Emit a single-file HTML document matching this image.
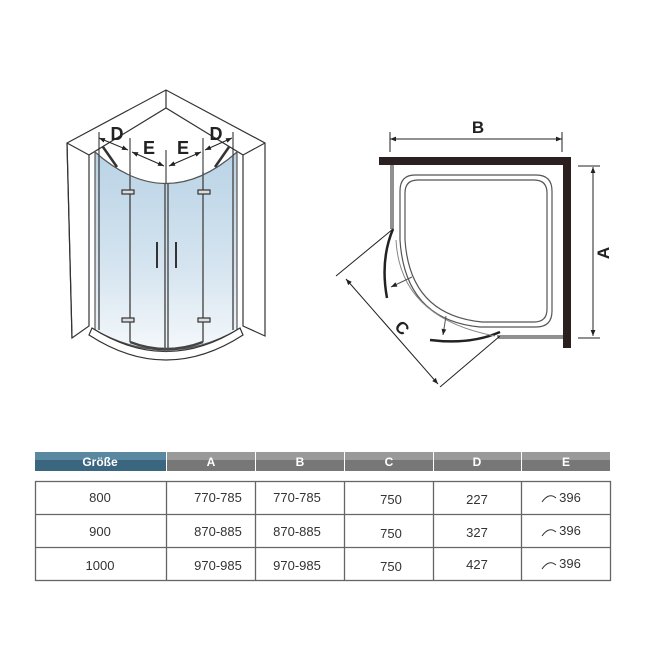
<!DOCTYPE html>
<html><head><meta charset="utf-8"><style>
body{margin:0;background:#fff;width:650px;height:650px;overflow:hidden;font-family:"Liberation Sans",sans-serif}
svg{position:absolute;left:0;top:0}
</style></head><body>
<svg width="650" height="650" viewBox="0 0 650 650">
<defs>
<linearGradient id="g" x1="0" y1="0" x2="0" y2="1">
<stop offset="0" stop-color="#b9d3e6"/><stop offset="0.6" stop-color="#d6e5f0"/><stop offset="1" stop-color="#f4f8fb"/></linearGradient>
<marker id="ar" viewBox="0 0 10 10" refX="10" refY="5" markerWidth="8" markerHeight="6" orient="auto-start-reverse"><path d="M0,1 L10,5 L0,9z" fill="#222"/></marker>
</defs>
<g stroke="#333" stroke-width="1.2" fill="none">
<path d="M67,143 L166,90 L265,143 L265,336 L243,326 L243,155 L166,108 L89,155 L89,326 L72,338 Z" fill="#fff"/>
<path d="M67,143 L89,155 M265,143 L243,155 M166,90 L166,108"/>
<path d="M67,143 L72,338"/>
<path d="M95,152 Q166,215 237,152 L237,330 Q166,370 95,330 Z" fill="url(#g)" stroke="#555"/>
<path d="M92,328 Q166,375 240,328 L243,335 Q166,385 89,335 Z" fill="#fff"/>
<path d="M130,342 Q166,356 203,342" stroke="#444" stroke-width="2.5"/>
<g stroke="#555" stroke-width="1.5">
<line x1="99" y1="155" x2="99" y2="330"/><line x1="130" y1="172" x2="130" y2="342"/>
<line x1="165" y1="183" x2="165" y2="352"/><line x1="168" y1="183" x2="168" y2="352"/>
<line x1="203" y1="172" x2="203" y2="342"/><line x1="233" y1="155" x2="233" y2="330"/>
</g>
<g stroke="#333" stroke-width="2"><line x1="157" y1="242" x2="157" y2="268"/><line x1="176" y1="242" x2="176" y2="268"/></g>
<g fill="#ddd"><rect x="122" y="190" width="12" height="4"/><rect x="198" y="190" width="12" height="4"/><rect x="122" y="318" width="12" height="4"/><rect x="198" y="318" width="12" height="4"/></g>
<path d="M103,147 L117,167 M229,147 L215,167" stroke-width="2.5"/>
<g stroke="#222" stroke-width="1"><line x1="99" y1="138" x2="128" y2="150" marker-start="url(#ar)" marker-end="url(#ar)"/>
<line x1="132" y1="152" x2="164" y2="166" marker-start="url(#ar)" marker-end="url(#ar)"/>
<line x1="169" y1="166" x2="201" y2="152" marker-start="url(#ar)" marker-end="url(#ar)"/>
<line x1="205" y1="150" x2="232" y2="138" marker-start="url(#ar)" marker-end="url(#ar)"/>
<line x1="99" y1="132" x2="99" y2="155"/><line x1="130" y1="138" x2="130" y2="172"/><line x1="203" y1="138" x2="203" y2="172"/><line x1="233" y1="132" x2="233" y2="155"/><line x1="166" y1="150" x2="166" y2="183"/></g>
</g>
<g font-size="18" font-weight="bold" fill="#222" text-anchor="middle"><text x="117" y="140">D</text><text x="149" y="154">E</text><text x="183" y="154">E</text><text x="216" y="140">D</text></g>

<g stroke="#222" fill="none">
<rect x="379" y="157" width="192" height="8" fill="#2a2020" stroke="none"/>
<rect x="563" y="157" width="8" height="191" fill="#2a2020" stroke="none"/>
<path d="M391,165 L391,229 M393,165 L393,229" stroke-width="1"/>
<path d="M497,336 L563,336 M497,338 L563,338" stroke-width="1"/>
<path d="M415,175 L536,175 Q552,175 552,191 L552,311 Q552,327 536,327 L480,327 Q405,320 400,240 L400,191 Q400,175 415,175 Z" stroke="#555" stroke-width="1.2"/>
<path d="M418,180 L534,180 Q547,180 547,193 L547,309 Q547,322 534,322 L482,322 Q410,315 405,240 L405,193 Q405,180 418,180 Z" stroke="#555" stroke-width="1.2"/>
<path d="M393,229 Q380,260 387,298" stroke-width="2.5"/>
<path d="M430,340 Q470,345 500,332" stroke-width="2.5"/>
<path d="M396,240 Q400,318 495,336" stroke="#888" stroke-width="1"/>
<line x1="412" y1="277" x2="391" y2="287" stroke="#555" marker-end="url(#ar)"/>
<line x1="446" y1="316" x2="443" y2="335" stroke="#555" marker-end="url(#ar)"/>
<line x1="390" y1="139" x2="562" y2="139" marker-start="url(#ar)" marker-end="url(#ar)" stroke-width="1"/>
<line x1="390" y1="132" x2="390" y2="152" stroke-width="1"/><line x1="562" y1="132" x2="562" y2="152" stroke-width="1"/>
<line x1="593" y1="167" x2="593" y2="336" marker-start="url(#ar)" marker-end="url(#ar)" stroke-width="1"/>
<line x1="578" y1="166" x2="600" y2="166" stroke-width="1"/><line x1="578" y1="338" x2="600" y2="338" stroke-width="1"/>
<line x1="346" y1="279" x2="438" y2="384" marker-start="url(#ar)" marker-end="url(#ar)" stroke-width="1"/>
<line x1="336" y1="276" x2="393" y2="229" stroke-width="1"/><line x1="440" y1="387" x2="500" y2="336" stroke-width="1"/>
</g>
<g font-size="17" font-weight="bold" fill="#222" text-anchor="middle"><text x="478" y="133">B</text>
<text transform="translate(609,253) rotate(-90)">A</text>
<text transform="translate(398,332) rotate(45)">C</text></g>

<rect x="35" y="452" width="131" height="19" fill="#3b6680"/>
<rect x="35" y="452" width="131" height="8" fill="#5a88a0"/>
<g fill="#777"><rect x="167" y="452" width="88" height="19"/><rect x="256" y="452" width="88" height="19"/><rect x="345" y="452" width="88" height="19"/><rect x="434" y="452" width="87" height="19"/><rect x="522" y="452" width="88" height="19"/></g>
<g fill="#9a9a9a"><rect x="167" y="452" width="88" height="8"/><rect x="256" y="452" width="88" height="8"/><rect x="345" y="452" width="88" height="8"/><rect x="434" y="452" width="87" height="8"/><rect x="522" y="452" width="88" height="8"/></g>
<g font-size="12" font-weight="bold" fill="#fff" text-anchor="middle"><text x="100" y="466">Größe</text><text x="211" y="466">A</text><text x="300" y="466">B</text><text x="389" y="466">C</text><text x="477" y="466">D</text><text x="566" y="466">E</text></g>
<g stroke="#666" stroke-width="1.3" fill="none"><rect x="35.5" y="481.5" width="575" height="99"/>
<line x1="35" y1="514.5" x2="611" y2="514.5"/><line x1="35" y1="547.5" x2="611" y2="547.5"/>
<line x1="166.5" y1="481" x2="166.5" y2="581"/><line x1="255.5" y1="481" x2="255.5" y2="581"/><line x1="344.5" y1="481" x2="344.5" y2="581"/><line x1="433.5" y1="481" x2="433.5" y2="581"/><line x1="521.5" y1="481" x2="521.5" y2="581"/></g>
<g font-size="13" fill="#333" text-anchor="middle">
<text x="100" y="502">800</text><text x="218" y="502">770-785</text><text x="297" y="502">770-785</text><text x="391" y="504">750</text><text x="477" y="504">227</text><text x="570" y="502">396</text>
<text x="100" y="536">900</text><text x="218" y="536">870-885</text><text x="297" y="536">870-885</text><text x="391" y="538">750</text><text x="477" y="537">327</text><text x="570" y="535">396</text>
<text x="100" y="570">1000</text><text x="218" y="570">970-985</text><text x="297" y="570">970-985</text><text x="391" y="571">750</text><text x="477" y="569">427</text><text x="570" y="568">396</text>
</g>
<g stroke="#333" fill="none" stroke-width="1"><path d="M542,502 Q549,492 556,498"/><path d="M542,536 Q549,526 556,532"/><path d="M542,569 Q549,559 556,565"/></g>
</svg>
</body></html>
